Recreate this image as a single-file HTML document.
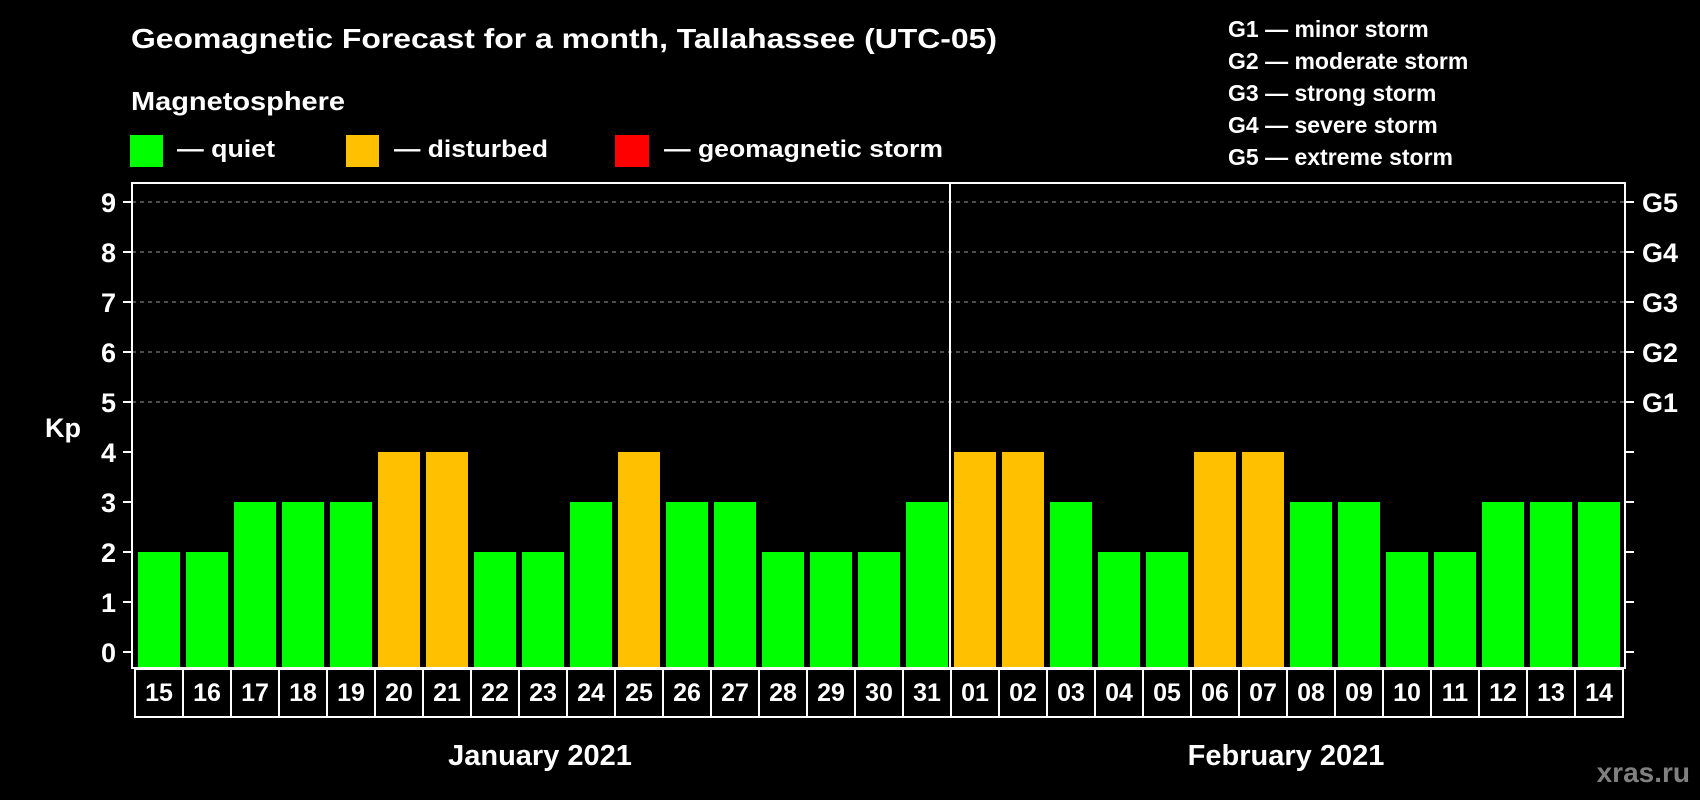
<!DOCTYPE html>
<html><head><meta charset="utf-8"><style>
html,body{margin:0;padding:0;background:#000;}
svg{display:block;font-family:"Liberation Sans",Arial,sans-serif;font-weight:bold;}
</style></head><body>
<svg id="chart" width="1700" height="800" viewBox="0 0 1700 800">
<rect width="1700" height="800" fill="#000"/>
<text x="131" y="48" font-size="28" fill="#fff" textLength="866" lengthAdjust="spacingAndGlyphs">Geomagnetic Forecast for a month, Tallahassee (UTC-05)</text>
<text x="131" y="110" font-size="26" fill="#fff" textLength="214" lengthAdjust="spacingAndGlyphs">Magnetosphere</text>
<g><rect x="130" y="135" width="33" height="32" fill="#00ff00"/><text x="177" y="157" font-size="24" fill="#fff" textLength="98" lengthAdjust="spacingAndGlyphs">— quiet</text></g>
<g><rect x="346" y="135" width="33" height="32" fill="#ffc000"/><text x="394" y="157" font-size="24" fill="#fff" textLength="154" lengthAdjust="spacingAndGlyphs">— disturbed</text></g>
<g><rect x="615" y="135" width="34" height="32" fill="#ff0000"/><text x="664" y="157" font-size="24" fill="#fff" textLength="279" lengthAdjust="spacingAndGlyphs">— geomagnetic storm</text></g>
<g font-size="23" fill="#fff">
<text x="1228" y="37">G1 — minor storm</text>
<text x="1228" y="69">G2 — moderate storm</text>
<text x="1228" y="101">G3 — strong storm</text>
<text x="1228" y="133">G4 — severe storm</text>
<text x="1228" y="165">G5 — extreme storm</text>
</g>
<text x="63" y="437" font-size="27" fill="#fff" text-anchor="middle">Kp</text>
<g id="grid"></g><g id="bars"></g><g id="axes"></g><g id="dates"></g>
<text x="540" y="765" font-size="29" fill="#fff" text-anchor="middle">January 2021</text>
<text x="1286" y="765" font-size="29" fill="#fff" text-anchor="middle">February 2021</text>
<text x="1690" y="782" font-size="28" fill="#808080" text-anchor="end">xras.ru</text>
</svg>
<script>
const days = ["15","16","17","18","19","20","21","22","23","24","25","26","27","28","29","30","31","01","02","03","04","05","06","07","08","09","10","11","12","13","14"];
const kpValues = [2,2,3,3,3,4,4,2,2,3,4,3,3,2,2,2,3,4,4,3,2,2,4,4,3,3,2,2,3,3,3];
const yTicks = [0,1,2,3,4,5,6,7,8,9];
const gLabels = ["","","","","","G1","G2","G3","G4","G5"];
const monthSplitIndex = 17;

const NS="http://www.w3.org/2000/svg";
const L=132,R=1625,T=183,B=668,Y0=652,UNIT=50,X0=135,PITCH=48,BW=42;
const y=v=>Y0-v*UNIT;
const x=i=>X0+i*PITCH;
function mk(tag,attrs,parent){const e=document.createElementNS(NS,tag);for(const k in attrs)e.setAttribute(k,attrs[k]);parent.appendChild(e);return e;}
const grid=document.getElementById('grid'),bars=document.getElementById('bars'),axes=document.getElementById('axes'),dates=document.getElementById('dates');
yTicks.forEach(v=>{
  if(v>=5){const g=mk('line',{x1:L,x2:R,y1:y(v),y2:y(v),stroke:'#999','stroke-width':1,'stroke-dasharray':'4,4'},grid);
  
  }
  const t=mk('line',{x1:123,x2:L,y1:y(v),y2:y(v),stroke:'#fff','stroke-width':2},axes);
  
  
  const lb=mk('text',{x:116,y:y(v)+10,'font-size':27,fill:'#fff','text-anchor':'end'},axes);lb.textContent=v;
  
  
  const rt=mk('line',{x1:R,x2:1634,y1:y(v),y2:y(v),stroke:'#fff','stroke-width':2},axes);
  
  
  if(gLabels[v]){const gl=mk('text',{x:1642,y:y(v)+10,'font-size':27,fill:'#fff'},axes);gl.textContent=gLabels[v];
  
  }
});
kpValues.forEach((v,i)=>{
  const c=v>=5?'#ff0000':(v>=4?'#ffc000':'#00ff00');
  const b=mk('rect',{x:x(i)+3,y:y(v),width:BW,height:B-y(v),fill:c},bars);
  
  
  const cell=mk('rect',{x:x(i),y:B+1,width:PITCH,height:48,fill:'none',stroke:'#fff','stroke-width':2},dates);
  
  
  const t=mk('text',{x:x(i)+PITCH/2,y:B+33,'font-size':25,fill:'#fff','text-anchor':'middle'},dates);t.textContent=days[i];
  
  
});
const fr=mk('rect',{x:L,y:T,width:R-L,height:B-T,fill:'none',stroke:'#fff','stroke-width':2},axes);


const dv=mk('line',{x1:x(monthSplitIndex)-1,x2:x(monthSplitIndex)-1,y1:T,y2:B,stroke:'#fff','stroke-width':2},axes);


</script>
</body></html>
